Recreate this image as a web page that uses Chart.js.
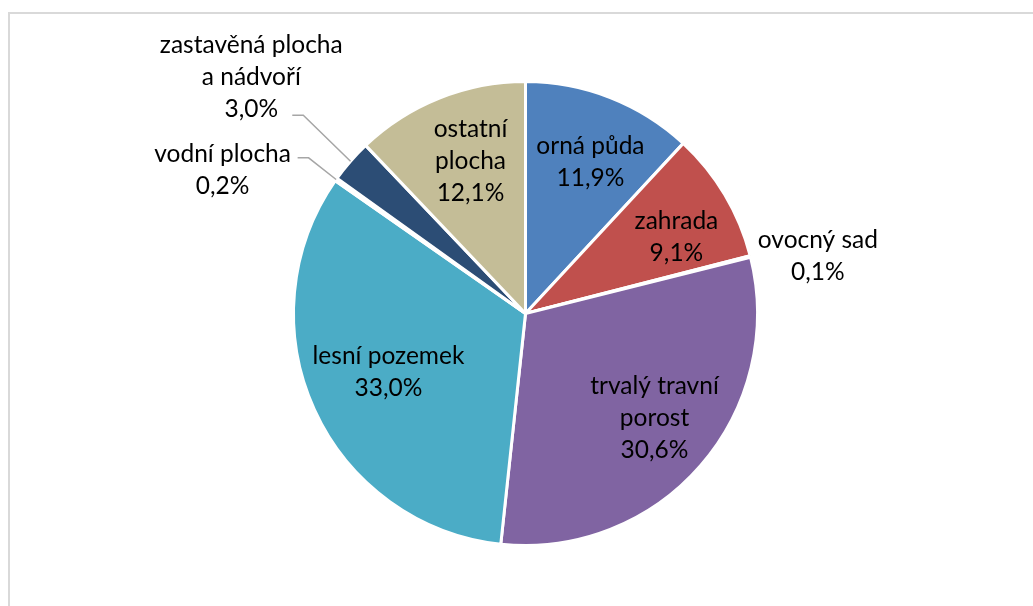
<!DOCTYPE html>
<html>
<head>
<meta charset="utf-8">
<script src="https://cdn.jsdelivr.net/npm/chart.js@4.4.1/dist/chart.umd.min.js"></script>
<style>
    html, body { margin: 0; padding: 0; width: 1033px; height: 606px; overflow: hidden; background: #fff; }
    #frame { position: absolute; left: 8px; top: 12px; width: 1100px; height: 700px; border: 2px solid #d9d9d9; }
    #wrap { position: absolute; left: 0; top: 0; width: 1033px; height: 606px; }
</style>
</head>
<body>
<div id="frame"></div>
<div id="wrap"><canvas id="pie-chart"></canvas></div>
<script>
// categories (multi-line labels as arrays) and shares in %
const categories = [
    'orná půda',
    'zahrada',
    'ovocný sad',
    ['trvalý travní', 'porost'],
    'lesní pozemek',
    'vodní plocha',
    ['zastavěná plocha', 'a nádvoří'],
    ['ostatní', 'plocha']
];
const shares = [11.9, 9.1, 0.1, 30.6, 33.0, 0.2, 3.0, 12.1];
const sliceColors = ['#4f81bd', '#c0504d', '#9bbb59', '#8064a2', '#4bacc6', '#f79646', '#2c4d75', '#c4bd97'];

// where each label sits: factor of radius, angle shift in degrees, optional leader end (offset from label centre)
var labelPlacement = {
    0: { r: 0.71, da: 1.8 },
    1: { r: 0.73, da: 3.8 },
    2: { r: 1.284, da: 3.2 },
    3: { r: 0.717, da: -1.9 },
    4: { r: 0.642, da: 1.4 },
    5: { r: 1.445, da: -9.9, leader: [75, -12] },
    6: { r: 1.56, da: -0.3, leader: [41, 38] },
    7: { r: 0.70, da: 2 }
};

const FONT = '24.5px Lato';
const LINE_H = 32;

var sliceLabels = {
    id: 'sliceLabels',
    afterDatasetsDraw: function (chart) {
        var ctx = chart.ctx,
            meta = chart.getDatasetMeta(0);
        ctx.save();
        ctx.font = FONT;
        ctx.textAlign = 'center';
        ctx.textBaseline = 'middle';
        meta.data.forEach(function (arc, i) {
            var p = arc.getProps(['x', 'y', 'startAngle', 'endAngle', 'outerRadius'], true),
                place = labelPlacement[i],
                mid = (p.startAngle + p.endAngle) / 2,
                a = mid + place.da * Math.PI / 180,
                cx = p.x + Math.cos(a) * p.outerRadius * place.r,
                cy = p.y + Math.sin(a) * p.outerRadius * place.r,
                name = chart.data.labels[i],
                lines = (Array.isArray(name) ? name : [name]).concat([shares[i].toFixed(1).replace('.', ',') + '%']),
                top = cy - (lines.length - 1) * LINE_H / 2;

            if (place.leader) {
                var ex = cx + place.leader[0],
                    ey = cy + place.leader[1],
                    sx = p.x + Math.cos(mid) * p.outerRadius,
                    sy = p.y + Math.sin(mid) * p.outerRadius;
                ctx.strokeStyle = '#a6a6a6';
                ctx.lineWidth = 1.5;
                ctx.beginPath();
                ctx.moveTo(ex, ey);
                ctx.lineTo(ex + 11, ey);
                ctx.lineTo(sx, sy);
                ctx.stroke();
            }

            ctx.fillStyle = '#000';
            lines.forEach(function (line, k) {
                ctx.fillText(line, cx, top + k * LINE_H);
            });
        });
        ctx.restore();
    }
};

new Chart(document.getElementById('pie-chart'), {
    type: 'pie',
    data: {
        labels: categories,
        datasets: [{
            data: shares,
            backgroundColor: sliceColors,
            borderColor: '#ffffff',
            borderWidth: 3
        }]
    },
    options: {
        responsive: true,
        maintainAspectRatio: false,
        animation: false,
        layout: {
            padding: { top: 80, bottom: 59, left: 292, right: 274 }
        },
        plugins: {
            legend: { display: false },
            tooltip: { enabled: false },
            title: { display: false }
        }
    },
    plugins: [sliceLabels]
});
</script>
</body>
</html>
